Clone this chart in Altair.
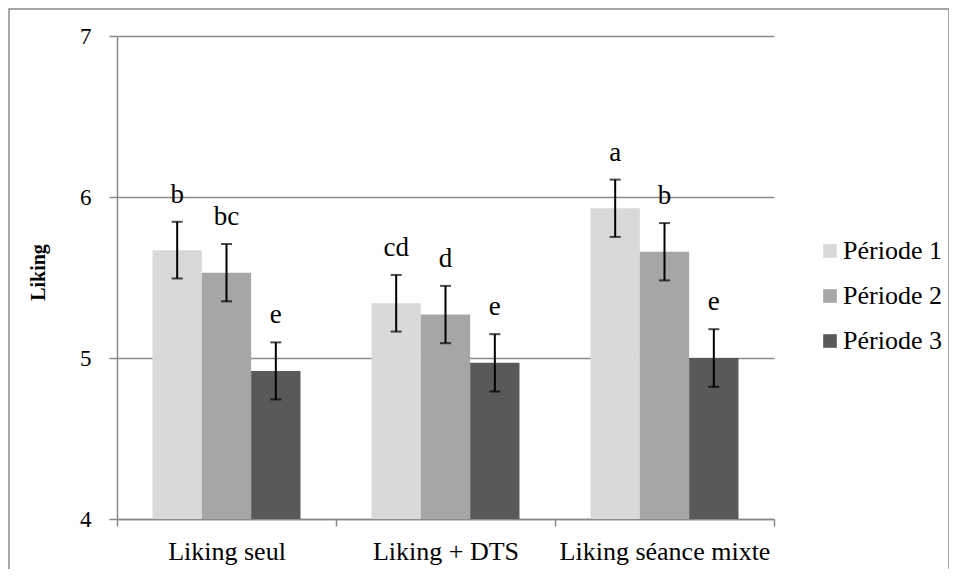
import altair as alt
import pandas as pd

conditions = ["Liking seul", "Liking + DTS", "Liking séance mixte"]
periods = ["Période 1", "Période 2", "Période 3"]
means_p1 = [5.67, 5.34, 5.93]
means_p2 = [5.53, 5.27, 5.66]
means_p3 = [4.92, 4.97, 5.00]
err_p1 = [0.176, 0.176, 0.178]
err_p2 = [0.178, 0.178, 0.178]
err_p3 = [0.177, 0.178, 0.179]
letters_p1 = ["b", "cd", "a"]
letters_p2 = ["bc", "d", "b"]
letters_p3 = ["e", "e", "e"]
colors = ["#d9d9d9", "#a6a6a6", "#595959"]
y_ticks = [4, 5, 6, 7]
y_min, y_max = 4, 7

rows = []
for p, ms, es, ls in zip(periods, [means_p1, means_p2, means_p3],
                         [err_p1, err_p2, err_p3],
                         [letters_p1, letters_p2, letters_p3]):
    for c, m, e, l in zip(conditions, ms, es, ls):
        rows.append(dict(cond=c, period=p, mean=m, lo=m - e, hi=m + e, letter=l))
df = pd.DataFrame(rows)

FONT = "Liberation Serif, Times New Roman, serif"
GRAY = "#8a8a8a"
W, H = 657, 483

x_enc = alt.X("cond:N", sort=conditions, title=None,
              scale=alt.Scale(paddingInner=0, paddingOuter=0),
              axis=alt.Axis(tickBand="extent", labelAngle=0, domainColor=GRAY,
                            domainWidth=1.5, tickColor=GRAY, tickWidth=1.5,
                            tickSize=7, labelFont=FONT, labelFontSize=26,
                            labelColor="black", labelBaseline="alphabetic",
                            labelPadding=33, labelLimit=0, grid=False))
xo_enc = alt.XOffset("period:N", sort=periods,
                     scale=alt.Scale(paddingOuter=0.72, paddingInner=0))
y_scale = alt.Scale(domain=[y_min, y_max], nice=False, zero=False)

bars = alt.Chart(df).mark_bar().encode(
    x=x_enc,
    xOffset=xo_enc,
    y=alt.Y("mean:Q", scale=y_scale, title="Liking",
            axis=alt.Axis(values=y_ticks, format="d", grid=True, gridColor=GRAY,
                          gridWidth=1.5, domainColor=GRAY, domainWidth=1.5,
                          tickColor=GRAY, tickWidth=1.5, tickSize=8,
                          labelFont=FONT, labelFontSize=23, labelColor="black",
                          labelPadding=18, titleFont=FONT, titleFontSize=20,
                          titleFontWeight="bold", titleColor="black",
                          titleX=-79, titleY=236, titleBaseline="middle")),
    y2=alt.datum(y_min),
    color=alt.Color("period:N", sort=periods,
                    scale=alt.Scale(domain=periods, range=colors),
                    legend=alt.Legend(title=None, orient="none", legendX=700,
                                      legendY=202, symbolType="square",
                                      symbolSize=185, symbolStrokeWidth=0,
                                      labelFont=FONT, labelFontSize=26,
                                      labelColor="black", rowPadding=19,
                                      labelOffset=0, padding=0)),
)

rules = alt.Chart(df).mark_rule(color="black", strokeWidth=2).encode(
    x=x_enc, xOffset=xo_enc, y=alt.Y("lo:Q", scale=y_scale), y2="hi:Q")

cap_lo = alt.Chart(df).mark_tick(color="black", thickness=2, size=11).encode(
    x=x_enc, xOffset=xo_enc, y=alt.Y("lo:Q", scale=y_scale))
cap_hi = alt.Chart(df).mark_tick(color="black", thickness=2, size=11).encode(
    x=x_enc, xOffset=xo_enc, y=alt.Y("hi:Q", scale=y_scale))

letters = alt.Chart(df).mark_text(font=FONT, fontSize=27, color="black",
                                  baseline="alphabetic", dy=-19).encode(
    x=x_enc, xOffset=xo_enc, y=alt.Y("hi:Q", scale=y_scale), text="letter:N")

frame = alt.Chart(pd.DataFrame({"k": [0]})).mark_rect(
    fillOpacity=0, stroke=GRAY, strokeWidth=1.5).encode(
    x=alt.value(-108), x2=alt.value(832), y=alt.value(-27), y2=alt.value(800))

chart = alt.layer(bars, rules, cap_lo, cap_hi, letters, frame).properties(
    width=W, height=H, autosize="none",
    padding={"left": 109, "top": 28, "right": 175, "bottom": 50},
).configure_view(stroke=None)

chart.save("out.html", embed_options={"renderer": "svg", "actions": False})
